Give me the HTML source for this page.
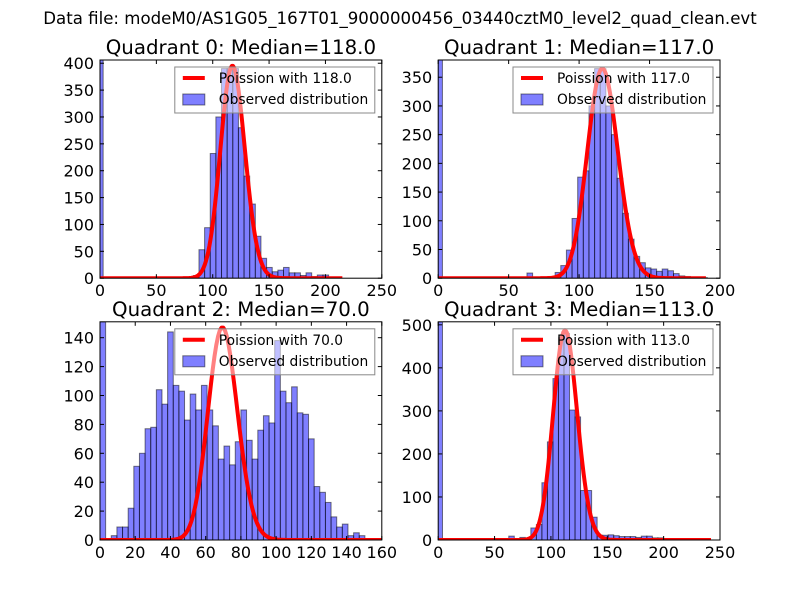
<!DOCTYPE html>
<html><head><meta charset="utf-8"><style>
html,body{margin:0;padding:0;background:#fff;}
svg{display:block;font-family:"DejaVu Sans","Liberation Sans",sans-serif;}
</style></head><body>
<svg id="chart" width="800" height="600" viewBox="0 0 800 600" xmlns="http://www.w3.org/2000/svg">
<rect width="800" height="600" fill="#fff"/>
<text x="400" y="24" text-anchor="middle" font-size="16.6">Data file: modeM0/AS1G05_167T01_9000000456_03440cztM0_level2_quad_clean.evt</text>
</svg>
<script>
// ---- data ----
const quadrantNames = ["0","1","2","3"];
const medians = [118, 117, 70, 113];
const peakHeights = [395, 365, 147, 487];
const curveEnds = [215, 190, 160, 242];
const binStarts = [-2.2, -1, 0, -1.1];
const binWidths = [5, 4, 3.2, 4.9];
const counts0 = [406,0,0,0,0,0,0,0,0,0,0,1,0,1,1,2,2,5,53,94,232,300,390,390,390,280,190,138,78,37,20,12,15,20,10,10,5,10,3,6,6,0,0,0,0,0,0,0,0,0];
const counts1 = [380,0,0,0,0,0,0,0,0,0,0,0,0,0,1,2,9,1,1,1,3,10,22,49,104,176,187,300,365,365,300,250,174,113,68,38,27,18,16,12,16,13,8,4,3,2,1,1,0,0];
const counts2 = [151,1,3,9,9,22,51,60,77,78,104,94,144,107,103,83,101,90,107,90,79,56,65,52,68,90,69,56,76,86,81,138,103,95,106,88,87,70,37,33,26,16,9,11,3,5,3,0,0,1];
const counts3 = [507,0,0,0,0,0,0,0,0,0,0,0,0,9,0,6,4,28,36,133,228,375,470,480,302,286,115,115,53,11,11,12,10,8,8,8,6,9,9,5,5,2,2,0,0,0,0,0,0,0];
const xMaxes = [250, 200, 160, 250];
const yMaxes = [406, 380, 151, 507];
const xTicks0 = [0,50,100,150,200,250];
const xTicks1 = [0,50,100,150,200];
const xTicks2 = [0,20,40,60,80,100,120,140,160];
const xTicks3 = [0,50,100,150,200,250];
const yTicks0 = [0,50,100,150,200,250,300,350,400];
const yTicks1 = [0,50,100,150,200,250,300,350];
const yTicks2 = [0,20,40,60,80,100,120,140];
const yTicks3 = [0,100,200,300,400,500];

const allCounts=[counts0,counts1,counts2,counts3];
const allXT=[xTicks0,xTicks1,xTicks2,xTicks3];
const allYT=[yTicks0,yTicks1,yTicks2,yTicks3];
const boxes=[[100,60,381.8,278.2],[438.2,60,720,278.2],[100,321.8,381.8,540],[438.2,321.8,720,540]];
const NS="http://www.w3.org/2000/svg";
const svg=document.getElementById('chart');
function mk(tag,attrs,parent){const e=document.createElementNS(NS,tag);for(const k in attrs)e.setAttribute(k,attrs[k]);(parent||svg).appendChild(e);return e;}
function lgamma(z){
  if(z<7){let p=1;while(z<7){p*=z;z+=1;}return lgamma(z)-Math.log(p);}
  return (z-0.5)*Math.log(z)-z+0.5*Math.log(2*Math.PI)+1/(12*z)-1/(360*z*z*z);
}
function pois(k,l){return Math.exp(k*Math.log(l)-l-lgamma(k+1));}

for(let p=0;p<4;p++){
  const [L,T,R,B]=boxes[p];
  const sx=v=>L+(v/xMaxes[p])*(R-L);
  const sy=v=>B-(v/yMaxes[p])*(B-T);
  const g=mk('g',{});
  
  
  const cp=mk('clipPath',{id:'clip'+p},g);
  mk('rect',{x:L,y:T,width:R-L,height:B-T},cp);
  const plot=mk('g',{'clip-path':'url(#clip'+p+')'},g);
  const cs=allCounts[p];
  for(let k=0;k<cs.length;k++){
    if(cs[k]<=0)continue;
    const x0=binStarts[p]+k*binWidths[p];
    const r=mk('rect',{x:sx(x0),y:sy(cs[k]),width:sx(x0+binWidths[p])-sx(x0),height:sy(0)-sy(cs[k]),fill:'#0000ff','fill-opacity':0.5,stroke:'#000','stroke-opacity':0.5,'stroke-width':1},plot);
    
    
  }
  const lam=medians[p];const pk=pois(Math.round(lam),lam);
  let d='';
  for(let x=0;x<=curveEnds[p];x+=1){
    const v=peakHeights[p]*pois(x,lam)/pk;
    d+=(x?'L':'M')+sx(x).toFixed(2)+','+sy(v).toFixed(2);
  }
  const cl=mk('path',{d:d,fill:'none',stroke:'#ff0000','stroke-width':4,'stroke-linejoin':'round'},plot);
  
  
  mk('rect',{x:L,y:T,width:R-L,height:B-T,fill:'none',stroke:'#000','stroke-width':1});
  allXT[p].forEach(t=>{
    const x=sx(t);
    mk('line',{x1:x,y1:B,x2:x,y2:B-4,stroke:'#000'},g);
    mk('line',{x1:x,y1:T,x2:x,y2:T+4,stroke:'#000'},g);
    const tx=mk('text',{x:x,y:B+18,'text-anchor':'middle','font-size':16},g);
    tx.textContent=t;
    
    
  });
  allYT[p].forEach(t=>{
    const y=sy(t);
    mk('line',{x1:L,y1:y,x2:L+4,y2:y,stroke:'#000'},g);
    mk('line',{x1:R,y1:y,x2:R-4,y2:y,stroke:'#000'},g);
    const tx=mk('text',{x:L-6,y:y+6,'text-anchor':'end','font-size':16},g);
    tx.textContent=t;
    
    
  });
  const ti=mk('text',{x:(L+R)/2,y:T-6,'text-anchor':'middle','font-size':19.8},g);
  ti.textContent='Quadrant '+quadrantNames[p]+': Median='+medians[p].toFixed(1);
  
  
  const lx=R-207, ly=T+7;
  const lg=mk('g',{},g);
  
  
  mk('rect',{x:lx,y:ly,width:200,height:46,fill:'#fff','fill-opacity':0.5,stroke:'#888','stroke-width':1},lg);
  mk('line',{x1:lx+8,y1:ly+11,x2:lx+30,y2:ly+11,stroke:'#ff0000','stroke-width':4},lg);
  const t1=mk('text',{x:lx+44,y:ly+16,'font-size':13.8},lg);
  t1.textContent='Poission with '+medians[p].toFixed(1);
  mk('rect',{x:lx+8,y:ly+27,width:22,height:11,fill:'#0000ff','fill-opacity':0.5,stroke:'#000','stroke-opacity':0.5},lg);
  const t2=mk('text',{x:lx+44,y:ly+37,'font-size':13.8},lg);
  t2.textContent='Observed distribution';
}
</script>
</body></html>
